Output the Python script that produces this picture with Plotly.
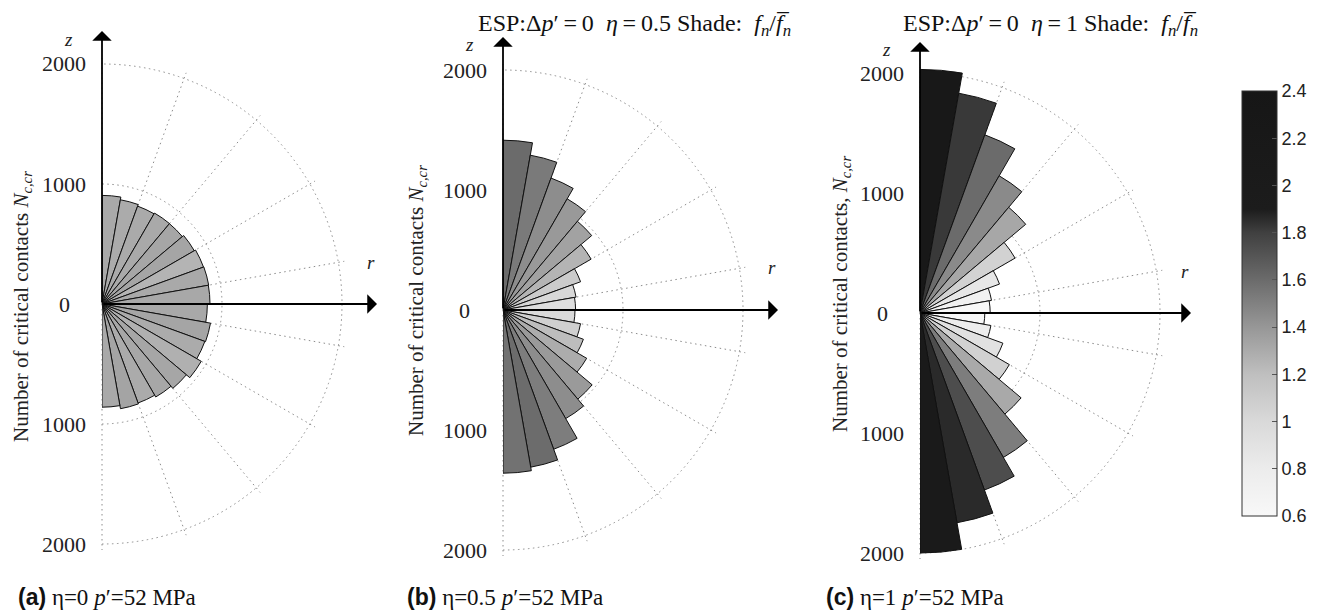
import plotly.graph_objects as go

# ---------------- data ----------------
theta_deg = [85, 75, 65, 55, 45, 35, 25, 15, 5, -5, -15, -25, -35, -45, -55, -65, -75, -85]
bin_width = 10

# number of critical contacts per orientation bin
r_a = [905, 882, 868, 875, 874, 888, 900, 903, 900, 878, 918, 912, 955, 918, 895, 878, 886, 860]
r_b = [1415, 1310, 1170, 1070, 965, 848, 688, 618, 605, 600, 656, 713, 805, 970, 1045, 1235, 1330, 1360]
r_c = [2030, 1860, 1580, 1320, 1150, 915, 705, 605, 585, 540, 600, 735, 860, 1100, 1390, 1570, 1775, 2000]

# shade f_n / mean f_n
shade_a = [1.31, 1.30, 1.305, 1.31, 1.325, 1.33, 1.255, 1.31, 1.315, 1.315, 1.33, 1.30, 1.275, 1.325, 1.32, 1.30, 1.335, 1.31]
shade_b = [1.60, 1.53, 1.445, 1.39, 1.345, 1.255, 1.11, 1.01, 0.95, 1.0, 1.08, 1.21, 1.295, 1.385, 1.445, 1.52, 1.595, 1.57]
shade_c = [2.2, 1.82, 1.6, 1.46, 1.32, 1.05, 0.85, 0.72, 0.6, 0.62, 0.78, 0.92, 1.06, 1.31, 1.52, 1.74, 1.86, 2.1]

radial_tick_vals = [2000, 1000, 0, -1000, -2000]
radial_tick_text = ["2000", "1000", "0", "1000", "2000"]
grid_circles = [1000, 2000]
spoke_angles = [-90, -70, -50, -30, -10, 10, 30, 50, 70, 90]

cbar_vals = [0.6, 0.8, 1.0, 1.2, 1.4, 1.6, 1.8, 2.0, 2.2, 2.4]
cbar_text = ["0.6", "0.8", "1", "1.2", "1.4", "1.6", "1.8", "2", "2.2", "2.4"]

TS = "\u2009"  # thin space (math-style spacing around '=')
FBAR = "f\u0305"
titles = ["",
          f"ESP:Δ<i>p</i>′{TS}={TS}0  <i>η</i>{TS}={TS}0.5 Shade:  <i>f<sub>n</sub></i>/<i>{FBAR}<sub>n</sub></i>",
          f"ESP:Δ<i>p</i>′{TS}={TS}0  <i>η</i>{TS}={TS}1 Shade:  <i>f<sub>n</sub></i>/<i>{FBAR}<sub>n</sub></i>"]
ylabels = ["Number of critical contacts <i>N<sub>c,cr</sub></i>",
           "Number of critical contacts <i>N<sub>c,cr</sub></i>",
           "Number of critical contacts, <i>N<sub>c,cr</sub></i>"]
captions = [("(a)", "η=0"), ("(b)", "η=0.5"), ("(c)", "η=1")]

# ---------------- layout constants (window pixels) ----------------
WIN_W, WIN_H = 1317, 616
BODY = 8                              # default page margin around the plot div
FW, FH = WIN_W - BODY, WIN_H - BODY   # figure size so it exactly fills the window
SERIF = "Liberation Serif"
SANS = "Liberation Sans"
RMAX = 2050
R2000 = 240                           # pixel radius of the 2000 circle
RPX = R2000 * RMAX / 2000
panels = [
    dict(cx=102, cy=304, ztip=31, rtip=377, ylx=22, yly=307, cap_x=16, tl_x=0),
    dict(cx=503, cy=310, ztip=37, rtip=778, ylx=417, yly=301, cap_x=405, tl_x=634),
    dict(cx=920, cy=313, ztip=42, rtip=1191, ylx=841, yly=294, cap_x=824, tl_x=1050),
]
series = [(r_a, shade_a), (r_b, shade_b), (r_c, shade_c)]

def px(x):
    return (x - BODY) / FW

def py(y):
    return 1 - (y - BODY) / FH

colorscale = [
    [0.0, "#f8f8f8"], [0.111, "#ececec"], [0.222, "#d9d9d9"], [0.333, "#bfbfbf"],
    [0.444, "#979797"], [0.556, "#6b6b6b"], [0.667, "#404040"], [0.722, "#1c1c1c"],
    [1.0, "#161616"],
]

def text_ann(x, y, text, size, family=SERIF, xanchor="center", angle=0, color="#222"):
    return dict(x=px(x), y=py(y), xref="paper", yref="paper", text=text,
                showarrow=False, xanchor=xanchor, yanchor="middle", textangle=angle,
                font=dict(family=family, size=size, color=color))

GRID = dict(gridcolor="#8c8c8c", griddash="1.5px,3.5px", gridwidth=1.4)

fig = go.Figure()
annotations = []
for i, (p, (rv, sv)) in enumerate(zip(panels, series)):
    name = "polar" if i == 0 else f"polar{i+1}"
    fig.add_trace(go.Barpolar(
        r=rv, theta=theta_deg, width=[bin_width] * len(theta_deg),
        marker=dict(color=sv, coloraxis="coloraxis", line=dict(color="#111", width=1)),
        subplot=name, showlegend=False, hoverinfo="r+theta",
    ))
    cx, cy = p["cx"], p["cy"]
    fig.layout[name] = dict(
        domain=dict(x=[px(cx), px(cx + RPX)], y=[py(cy + RPX), py(cy - RPX)]),
        sector=[-90, 90], bgcolor="rgba(0,0,0,0)", hole=0,
        radialaxis=dict(range=[0, RMAX], tickvals=grid_circles, showticklabels=False,
                        ticks="", showline=False, layer="above traces", **GRID),
        angularaxis=dict(tickvals=spoke_angles, showticklabels=False, ticks="",
                         showline=False, rotation=0, direction="counterclockwise",
                         layer="above traces", **GRID),
    )
    # axis arrows
    annotations.append(dict(x=px(cx), y=py(p["ztip"]), xref="paper", yref="paper",
                            xanchor="center", yanchor="middle",
                            ax=0, ay=cy - p["ztip"], showarrow=True, arrowhead=1,
                            arrowsize=1.8, arrowwidth=1.8, arrowcolor="black", text=""))
    annotations.append(dict(x=px(p["rtip"]), y=py(cy), xref="paper", yref="paper",
                            xanchor="center", yanchor="middle",
                            ax=-(p["rtip"] - cx), ay=0, showarrow=True, arrowhead=1,
                            arrowsize=1.8, arrowwidth=1.8, arrowcolor="black", text=""))
    annotations.append(text_ann(cx - 34, p["ztip"] + 8, "<i>z</i>", 19))
    annotations.append(text_ann(p["rtip"] - 6, cy - 42, "<i>r</i>", 19))
    # radial tick labels along the vertical axis
    for tv, tt in zip(radial_tick_vals, radial_tick_text):
        annotations.append(text_ann(cx - 38, cy - tv * R2000 / 2000, tt, 22))
    # y label
    annotations.append(text_ann(p["ylx"], p["yly"], ylabels[i], 21, angle=-90))
    # title
    if titles[i]:
        annotations.append(text_ann(p["tl_x"], 25, titles[i], 24, color="#111"))
    # caption
    lab, eta = captions[i]
    annotations.append(text_ann(
        p["cap_x"], 597,
        f"<span style='font-family:{SANS};font-weight:bold'>{lab}</span> {eta} <i>p</i>′=52 MPa",
        23, xanchor="left", color="#111"))

fig.update_layout(
    width=FW, height=FH, margin=dict(l=0, r=0, t=0, b=0, autoexpand=False),
    paper_bgcolor="white", plot_bgcolor="white",
    annotations=annotations,
    coloraxis=dict(
        cmin=0.6, cmax=2.4, colorscale=colorscale,
        colorbar=dict(x=px(1242), xanchor="left", y=py(91), yanchor="top",
                      len=425, lenmode="pixels", thickness=35, thicknessmode="pixels",
                      xpad=0, ypad=0, outlinewidth=1, outlinecolor="#333",
                      tickvals=cbar_vals, ticktext=cbar_text, ticks="inside",
                      ticklen=5, tickcolor="#555",
                      tickfont=dict(family=SANS, size=18, color="#222")),
    ),
)

fig.write_html("out.html")
